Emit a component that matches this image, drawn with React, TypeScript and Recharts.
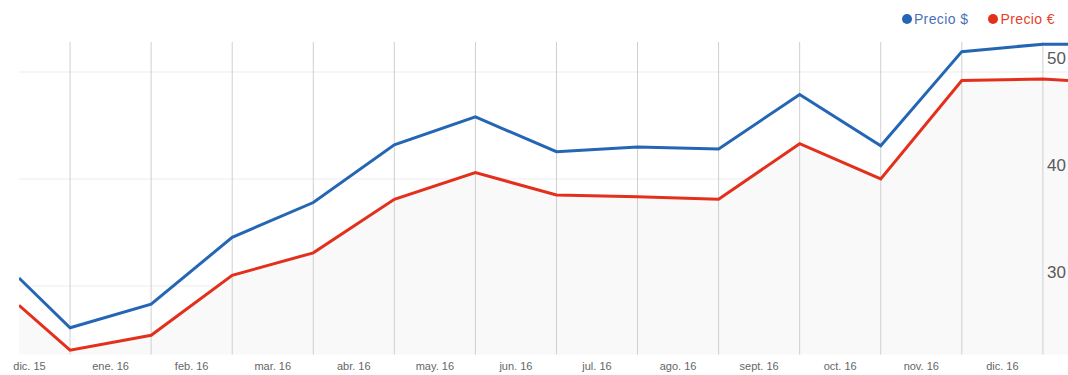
import React from "react";
import { ComposedChart, Line, Area, XAxis, YAxis, CartesianGrid, ReferenceLine } from "recharts";

// x position of each sample (0..12 = month boundaries drawn as vertical gridlines)
const positions = [-0.63, 0, 1, 2, 3, 4, 5, 6, 7, 8, 9, 10, 11, 12, 12.31];
const usdValues = [30.75, 26.1, 28.3, 34.55, 37.8, 43.2, 45.8, 42.55, 43.0, 42.8, 47.9, 43.1, 51.9, 52.6, 52.6];
const eurValues = [28.2, 24.0, 25.4, 31.0, 33.1, 38.1, 40.6, 38.5, 38.35, 38.1, 43.3, 40.0, 49.2, 49.35, 49.2];

const monthLabels = [
  "dic. 15", "ene. 16", "feb. 16", "mar. 16", "abr. 16", "may. 16", "jun. 16",
  "jul. 16", "ago. 16", "sept. 16", "oct. 16", "nov. 16", "dic. 16",
];
const monthBoundaries = [0, 1, 2, 3, 4, 5, 6, 7, 8, 9, 10, 11, 12];
const yTicks = [30, 40, 50];

const seriesNames = ["Precio $", "Precio €"];
const BLUE = "#2466b4";
const RED = "#e3301c";
const LEGEND_TEXT = ["#4a72b8", "#e8402a"];

const data = positions.map((p, i) => ({ pos: p, usd: usdValues[i], eur: eurValues[i] }));
const labelTicks = monthLabels.map((_, i) => i - 0.5);

export default function App() {
  return (
    <div style={{ position: "fixed", left: 0, top: 0, width: 1068, height: 375, background: "#fff", fontFamily: "'Liberation Sans', Arial, sans-serif" }}>
      <div style={{ position: "absolute", top: 10, right: 13, display: "flex", alignItems: "center", fontSize: 14, lineHeight: "18px", zIndex: 2 }}>
        {[BLUE, RED].map((c, i) => (
          <div key={i} style={{ display: "flex", alignItems: "center", marginLeft: i ? 20 : 0 }}>
            <span style={{ width: 10, height: 10, borderRadius: 5, background: c, display: "inline-block", marginRight: 2 }} />
            <span style={{ color: LEGEND_TEXT[i], letterSpacing: 0.4 }}>{seriesNames[i]}</span>
          </div>
        ))}
      </div>
      <ComposedChart width={1068} height={375} data={data} margin={{ top: 42, right: 0, bottom: 0, left: 19 }}>
        <CartesianGrid vertical={false} horizontalValues={yTicks} stroke="#ececec" />
        <XAxis
          dataKey="pos"
          type="number"
          domain={[positions[0], positions[positions.length - 1]]}
          allowDataOverflow
          ticks={labelTicks}
          interval={0}
          tickFormatter={(v: number) => monthLabels[Math.round(v + 0.5)]}
          axisLine={false}
          tickLine={false}
          height={20.5}
          tick={{ fontSize: 11, fill: "#666", fontFamily: "'Liberation Sans', Arial, sans-serif" }}
        />
        <YAxis
          orientation="right"
          mirror
          width={1}
          domain={[23.6, 52.8]}
          ticks={yTicks}
          axisLine={false}
          tickLine={false}
          tickSize={0}
          tickMargin={2}
          tick={{ fontSize: 17, fill: "#5a5a5a", dy: -14, fontFamily: "'Liberation Sans', Arial, sans-serif" }}
        />
        <Area dataKey="eur" stroke="none" fill="#f9f9f9" fillOpacity={1} isAnimationActive={false} />
        {monthBoundaries.map((b) => (
          <ReferenceLine key={b} x={b} stroke="#cfcfcf" strokeWidth={1} />
        ))}
        <Line dataKey="usd" name={seriesNames[0]} stroke={BLUE} strokeWidth={3} dot={false} isAnimationActive={false} />
        <Line dataKey="eur" name={seriesNames[1]} stroke={RED} strokeWidth={3} dot={false} isAnimationActive={false} />
      </ComposedChart>
    </div>
  );
}
